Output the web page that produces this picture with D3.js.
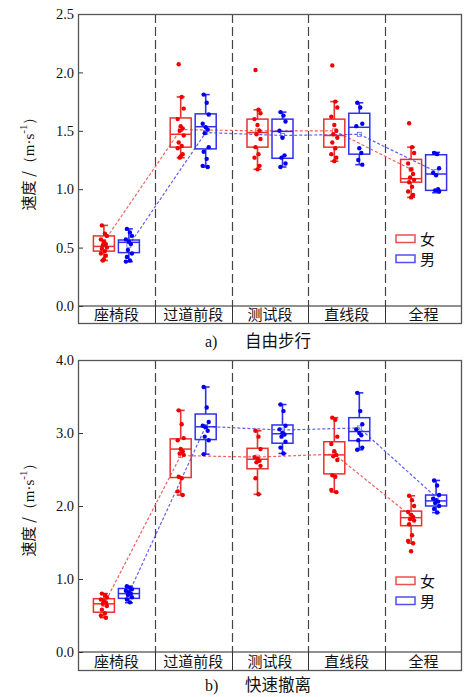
<!DOCTYPE html>
<html>
<head>
<meta charset="utf-8">
<script src="https://cdn.jsdelivr.net/npm/d3@7"></script>
<style>
  body { margin: 0; background: #fff; }
  svg { display: block; }
</style>
</head>
<body>
<svg id="chart" width="470" height="697"></svg>
<script>
// data
var categories = ["座椅段", "过道前段", "测试段", "直线段", "全程"];
var sexes = ["女", "男"];

// a) free walking : [min, q1, median, q3, max]
var freeFemaleBox = [[0.39,0.47,0.51,0.60,0.69],[1.27,1.36,1.47,1.61,1.79],[1.17,1.36,1.485,1.60,1.68],[1.24,1.36,1.46,1.60,1.75],[0.93,1.06,1.09,1.255,1.36]];
var freeMaleBox   = [[0.38,0.457,0.545,0.565,0.66],[1.19,1.345,1.535,1.645,1.81],[1.19,1.265,1.495,1.60,1.66],[1.21,1.30,1.53,1.65,1.74],[0.97,0.99,1.13,1.295,1.315]];
var freeFemalePts = [
  [0.69,0.62,0.60,0.57,0.55,0.53,0.52,0.50,0.49,0.47,0.45,0.43,0.40,0.39],
  [2.07,1.79,1.69,1.60,1.54,1.52,1.50,1.46,1.40,1.37,1.35,1.30,1.28,1.27],
  [2.02,1.68,1.65,1.60,1.55,1.50,1.47,1.43,1.36,1.30,1.27,1.20,1.17],
  [2.06,1.75,1.70,1.62,1.55,1.50,1.47,1.44,1.40,1.35,1.30,1.27,1.24],
  [1.565,1.36,1.31,1.22,1.17,1.13,1.10,1.08,1.06,1.02,0.98,0.95,0.93]
];
var freeMalePts = [
  [0.66,0.63,0.60,0.57,0.55,0.53,0.48,0.45,0.42,0.39,0.38],
  [1.81,1.74,1.64,1.56,1.53,1.51,1.48,1.36,1.32,1.26,1.20,1.19],
  [1.66,1.63,1.58,1.50,1.44,1.29,1.27,1.22,1.19],
  [1.74,1.70,1.56,1.54,1.35,1.31,1.25,1.21],
  [1.31,1.30,1.18,1.14,1.12,1.00,0.99,0.98]
];
var freeFemaleMean = [0.55, 1.51, 1.50, 1.50, 1.17];
var freeMaleMean   = [0.52, 1.485, 1.46, 1.47, 1.15];

// b) fast evacuation
var fastFemaleBox = [[0.47,0.545,0.66,0.73,0.80],[2.15,2.39,2.78,2.92,3.31],[2.16,2.51,2.64,2.79,3.03],[2.19,2.44,2.70,2.88,3.21],[1.49,1.73,1.84,1.93,2.14]];
var fastMaleBox   = [[0.675,0.735,0.80,0.87,0.90],[2.71,2.91,3.085,3.26,3.63],[2.72,2.86,2.99,3.11,3.39],[2.77,2.895,3.02,3.21,3.55],[1.91,2.00,2.07,2.15,2.35]];
var fastFemalePts = [
  [0.80,0.78,0.75,0.72,0.70,0.68,0.66,0.63,0.58,0.53,0.50,0.47],
  [3.31,3.12,2.93,2.90,2.78,2.75,2.72,2.70,2.40,2.38,2.20,2.15],
  [3.03,2.95,2.78,2.67,2.65,2.62,2.60,2.55,2.38,2.16],
  [3.21,3.18,2.95,2.85,2.75,2.70,2.68,2.63,2.42,2.40,2.22,2.19],
  [2.14,2.08,2.00,1.92,1.88,1.85,1.82,1.80,1.75,1.60,1.52,1.49,1.38]
];
var fastMalePts = [
  [0.90,0.88,0.86,0.84,0.82,0.80,0.78,0.75,0.72,0.68],
  [3.63,3.35,3.15,3.10,3.08,3.03,2.95,2.90,2.71],
  [3.39,3.30,3.10,3.05,3.00,2.98,2.95,2.88,2.80,2.72],
  [3.55,3.30,3.12,3.05,3.00,2.97,2.90,2.80,2.77],
  [2.35,2.28,2.15,2.10,2.08,2.06,2.04,2.00,1.96,1.91]
];
var fastFemaleMean = [0.65, 2.69, 2.67, 2.71, 1.86];
var fastMaleMean   = [0.81, 3.09, 3.04, 3.07, 2.12];

var jitter = [-2, 1, 3, -3, 0, 2, -1, 3, -2, 1, -3, 2, 0, -1];

var svg = d3.select("#chart");
var serif = "'Liberation Serif', 'DejaVu Serif', serif";
var cjk = "'Noto Sans CJK SC', 'Noto Sans', sans-serif";
var boxColor = ["#e8322f", "#3030ee"];
var dotColor = ["#f00000", "#0000f0"];
var lineColor = ["#f06060", "#6060f0"];

var x = d3.scaleBand().domain(categories).range([78, 462]);
var off = [-12.5, 12.5];

function panel(opt) {
  var g = svg.append("g");
  var y = d3.scaleLinear().domain([0, opt.yMax]).range([opt.zeroY, opt.top]);

  // category band + axis line
  g.append("line").attr("x1", 78).attr("x2", 462)
    .attr("y1", opt.zeroY).attr("y2", opt.zeroY)
    .attr("stroke", "#222").attr("stroke-width", 1);

  // dividers
  categories.slice(1).forEach(function(c) {
    var xx = Math.round(x(c)) + 0.5;
    g.append("line").attr("x1", xx).attr("x2", xx)
      .attr("y1", opt.top).attr("y2", opt.zeroY)
      .attr("stroke", "#444").attr("stroke-width", 1.2)
      .attr("stroke-dasharray", "9,4");
    g.append("line").attr("x1", xx).attr("x2", xx)
      .attr("y1", opt.zeroY).attr("y2", opt.bottom)
      .attr("stroke", "#333").attr("stroke-width", 1);
  });

  // y axis (ticks inside)
  var ax = g.append("g").attr("transform", "translate(78,0)")
    .call(d3.axisRight(y).tickValues(opt.ticks).tickSize(5).tickFormat(d3.format(".1f")));
  ax.select(".domain").remove();
  ax.selectAll(".tick line").attr("stroke", "#333");
  ax.selectAll(".tick text").attr("x", -4).attr("text-anchor", "end")
    .attr("font-family", serif).attr("font-size", 14.5).attr("fill", "#111");

  // frame
  g.append("rect").attr("x", 78.5).attr("y", opt.top + 0.5)
    .attr("width", 383).attr("height", opt.bottom - opt.top)
    .attr("fill", "none").attr("stroke", "#555").attr("stroke-width", 1.3);

  // category labels
  g.selectAll(".cat").data(categories).enter().append("text")
    .attr("x", function(d) { return x(d) + x.bandwidth() / 2; })
    .attr("y", opt.bottom - 3)
    .attr("text-anchor", "middle")
    .attr("font-family", cjk).attr("font-size", 15).attr("fill", "#111")
    .text(function(d) { return d; });

  // mean lines
  [opt.fMean, opt.mMean].forEach(function(means, s) {
    var line = d3.line()
      .x(function(d, i) { return x(categories[i]) + x.bandwidth() / 2 + off[s]; })
      .y(function(d) { return y(d); });
    g.append("path").attr("d", line(means))
      .attr("fill", "none").attr("stroke", lineColor[s])
      .attr("stroke-width", 1.2).attr("stroke-dasharray", "3,2");
  });

  // boxes
  [[opt.fBox, opt.fPts, opt.fMean], [opt.mBox, opt.mPts, opt.mMean]].forEach(function(set, s) {
    var boxes = set[0], pts = set[1], means = set[2];
    categories.forEach(function(c, i) {
      var cx = x(c) + x.bandwidth() / 2 + off[s];
      var b = boxes[i];
      var bg = g.append("g");
      // whiskers
      bg.append("line").attr("x1", cx).attr("x2", cx)
        .attr("y1", y(b[0])).attr("y2", y(b[1]))
        .attr("stroke", boxColor[s]).attr("stroke-width", 1.6);
      bg.append("line").attr("x1", cx).attr("x2", cx)
        .attr("y1", y(b[3])).attr("y2", y(b[4]))
        .attr("stroke", boxColor[s]).attr("stroke-width", 1.6);
      [b[0], b[4]].forEach(function(v) {
        bg.append("line").attr("x1", cx - 4).attr("x2", cx + 4)
          .attr("y1", y(v)).attr("y2", y(v))
          .attr("stroke", boxColor[s]).attr("stroke-width", 1.6);
      });
      bg.append("rect").attr("x", cx - 10.5).attr("y", y(b[3]))
        .attr("width", 21).attr("height", y(b[1]) - y(b[3]))
        .attr("fill", "none").attr("stroke", boxColor[s]).attr("stroke-width", 1.5);
      bg.append("line").attr("x1", cx - 10.5).attr("x2", cx + 10.5)
        .attr("y1", y(b[2])).attr("y2", y(b[2]))
        .attr("stroke", boxColor[s]).attr("stroke-width", 1.5);
      // mean marker
      bg.append("rect").attr("x", cx - 2).attr("y", y(means[i]) - 2)
        .attr("width", 4).attr("height", 4)
        .attr("fill", "none").attr("stroke", lineColor[s]).attr("stroke-width", 0.8);
      // points
      bg.selectAll("circle").data(pts[i]).enter().append("circle")
        .attr("cx", function(d, k) { return cx + jitter[k % jitter.length]; })
        .attr("cy", function(d) { return y(d); })
        .attr("r", 2.2)
        .attr("fill", dotColor[s]);
    });
  });

  // legend
  sexes.forEach(function(sx, s) {
    var ly = opt.legendY + s * 20;
    g.append("rect").attr("x", 396).attr("y", ly - 4)
      .attr("width", 19).attr("height", 7.5)
      .attr("fill", "none").attr("stroke", boxColor[s]).attr("stroke-width", 1.5)
      .attr("opacity", 0.85);
    g.append("text").attr("x", 420).attr("y", ly + 5.5)
      .attr("font-family", cjk).attr("font-size", 15).attr("fill", "#111")
      .text(sx);
  });

  // y title
  var t = g.append("text")
    .attr("transform", "translate(34," + ((opt.top + opt.zeroY) / 2) + ") rotate(-90)")
    .attr("text-anchor", "middle")
    .attr("font-size", 15).attr("fill", "#111");
  t.append("tspan").attr("font-family", cjk).text("速度 /");
  t.append("tspan").attr("font-family", serif).text("（m·s");
  t.append("tspan").attr("font-family", serif).attr("font-size", 11).attr("dy", -7).text("-1");
  t.append("tspan").attr("font-family", serif).attr("dy", 7).text("）");

  // caption
  svg.append("text").attr("x", 205).attr("y", opt.capY)
    .attr("font-family", serif).attr("font-size", 16).attr("fill", "#111")
    .text(opt.capTag);
  svg.append("text").attr("x", 245).attr("y", opt.capY)
    .attr("font-family", cjk).attr("font-size", 16.5).attr("fill", "#111")
    .text(opt.capText);
}

panel({
  top: 14, zeroY: 306, bottom: 323, yMax: 2.5,
  ticks: [0, 0.5, 1.0, 1.5, 2.0, 2.5],
  fBox: freeFemaleBox, mBox: freeMaleBox, fPts: freeFemalePts, mPts: freeMalePts,
  fMean: freeFemaleMean, mMean: freeMaleMean,
  legendY: 239, capY: 347, capTag: "a)", capText: "自由步行"
});

panel({
  top: 360, zeroY: 652, bottom: 670, yMax: 4.0,
  ticks: [0, 1, 2, 3, 4],
  fBox: fastFemaleBox, mBox: fastMaleBox, fPts: fastFemalePts, mPts: fastMalePts,
  fMean: fastFemaleMean, mMean: fastMaleMean,
  legendY: 581, capY: 691, capTag: "b)", capText: "快速撤离"
});
</script>
</body>
</html>
